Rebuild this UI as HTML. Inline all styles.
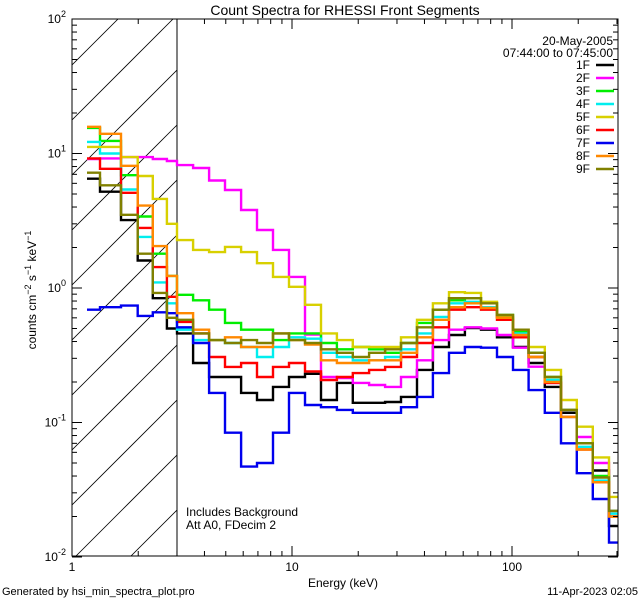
<!DOCTYPE html>
<html><head><meta charset="utf-8">
<style>
html,body{margin:0;padding:0;background:#fff;width:640px;height:600px;overflow:hidden;}
svg{display:block;font-family:"Liberation Sans",sans-serif;overflow:hidden;}
</style></head>
<body>
<svg id="chart" width="640" height="600" viewBox="0 0 640 600" xmlns="http://www.w3.org/2000/svg">
<rect width="640" height="600" fill="#fff"/>
<defs><clipPath id="hclip"><rect x="72" y="19" width="105" height="537"/></clipPath>
<clipPath id="pclip"><rect x="72" y="19" width="546" height="537"/></clipPath></defs>
<g id="hatch" clip-path="url(#hclip)"></g>
<line x1="177" y1="19" x2="177" y2="556" stroke="#000" stroke-width="1"/>
<g id="series" clip-path="url(#pclip)"></g>
<rect x="72" y="19" width="546" height="537" fill="none" stroke="#000" stroke-width="1"/>
<g id="ticks"></g>
<text x="345" y="15" font-size="14" text-anchor="middle">Count Spectra for RHESSI Front Segments</text>
<text x="613" y="45" font-size="12" text-anchor="end">20-May-2005</text>
<text x="613" y="57" font-size="12" text-anchor="end">07:44:00 to 07:45:00</text>
<g id="legend"></g>
<text transform="translate(36,290) rotate(-90)" font-size="12" text-anchor="middle">counts cm<tspan dy="-5" font-size="9">−2</tspan><tspan dy="5"> s</tspan><tspan dy="-5" font-size="9">−1</tspan><tspan dy="5"> keV</tspan><tspan dy="-5" font-size="9">−1</tspan></text>
<text x="343" y="587" font-size="12" text-anchor="middle">Energy (keV)</text>
<text x="186" y="516" font-size="12">Includes Background</text>
<text x="186" y="529" font-size="12">Att A0, FDecim 2</text>
<text x="2" y="595" font-size="11">Generated by hsi_min_spectra_plot.pro</text>
<text x="638" y="595" font-size="11" text-anchor="end">11-Apr-2023 02:05</text>
</svg>
<script>
const edges = [1.17,1.34,1.67,1.99,2.33,2.70,3.0,3.55,4.20,4.96,5.87,6.93,8.20,9.69,11.46,13.55,16.0,18.9,22.4,26.5,31.3,37.0,43.7,51.7,61.1,72.3,85.5,101,119,141,167,197,233,276,302];
const seriesNames = ['1F','2F','3F','4F','5F','6F','7F','8F','9F'];
const seriesColors = ['#000000','#ff00ff','#00ee00','#00eeee','#d8d000','#ff0000','#0000ee','#ff8800','#808000'];
const s1F = [6.5,5.2,3.2,1.6,0.84,0.5, 0.46,0.277,0.218,0.218,0.166,0.147,0.184,0.218,0.23, 0.147,0.197,0.14,0.14,0.142,0.155,0.246,0.364,0.447,0.504,0.49,0.43,0.364,0.277,0.184,0.118,0.07,0.044,0.017];
const s2F = [9.1,9.2,9.4,9.4,9.1,8.8, 8.2,7.8,6.3,5.35,3.8,2.7,1.92,1.21,0.45, 0.218,0.214,0.197,0.19,0.184,0.218,0.29,0.41,0.49,0.51,0.5,0.447,0.36,0.26,0.197,0.124,0.078,0.05,0.022];
const s3F = [15.5,12.4,6.9,3.4,1.8,1.23, 0.89,0.81,0.69,0.55,0.49,0.49,0.41,0.46,0.46, 0.39,0.35,0.364,0.35,0.33,0.39,0.55,0.69,0.81,0.84,0.77,0.63,0.47,0.33,0.218,0.124,0.07,0.04,0.022];
const s4F = [12.2,10,5.4,2.4,1.1,0.77, 0.49,0.41,0.41,0.39,0.364,0.307,0.364,0.43,0.42, 0.33,0.307,0.29,0.29,0.307,0.35,0.46,0.61,0.77,0.79,0.72,0.61,0.46,0.307,0.207,0.11,0.066,0.037,0.021];
const s5F = [11.2,11.2,9.4,6.8,4.6,3.0, 2.27,1.92,1.85,2.02,1.85,1.53,1.21,1.02,0.75, 0.46,0.41,0.364,0.364,0.364,0.43,0.58,0.77,0.93,0.92,0.79,0.61,0.49,0.364,0.246,0.147,0.093,0.055,0.028];
const s6F = [9.2,7.7,5.1,2.8,1.43,0.86, 0.56,0.46,0.307,0.259,0.277,0.218,0.259,0.277,0.24, 0.207,0.218,0.233,0.246,0.259,0.307,0.39,0.51,0.69,0.72,0.69,0.58,0.43,0.307,0.197,0.11,0.063,0.036,0.02];
const s7F = [0.69,0.72,0.74,0.62,0.66,0.65, 0.51,0.39,0.166,0.084,0.047,0.05,0.084,0.166,0.135, 0.13,0.124,0.118,0.118,0.118,0.13,0.155,0.233,0.33,0.364,0.36,0.307,0.246,0.174,0.118,0.07,0.042,0.027,0.0128];
const s8F = [15.8,14,8.1,4.1,2.05,1.23, 0.65,0.49,0.41,0.43,0.364,0.364,0.46,0.41,0.38, 0.29,0.277,0.277,0.29,0.29,0.33,0.43,0.58,0.72,0.77,0.71,0.6,0.447,0.307,0.2,0.11,0.063,0.036,0.02];
const s9F = [7.2,5.8,3.5,1.8,0.92,0.6, 0.58,0.46,0.41,0.39,0.41,0.39,0.46,0.41,0.39, 0.35,0.33,0.307,0.33,0.35,0.39,0.51,0.69,0.84,0.84,0.77,0.63,0.49,0.33,0.218,0.124,0.07,0.039,0.022];
const yTickExps = [-2,-1,0,1,2];
const xTickVals = [1,10,100];
const xTickLabels = ['1','10','100'];

const NS='http://www.w3.org/2000/svg';
const X0=72,X1=618,Y0=19,Y1=556;
const xDec=220, yDec=134.5;
function xs(e){return X0+xDec*Math.log10(e);}
function ys(v){return 288-yDec*Math.log10(v);}
function mk(tag,attrs,parent){const el=document.createElementNS(NS,tag);for(const k in attrs)el.setAttribute(k,attrs[k]);parent.appendChild(el);return el;}

const hatch=document.getElementById('hatch');
for(let b=-40;b<700;b+=55){
  const l=mk('line',{x1:72,y1:b+105,x2:177,y2:b,stroke:'#000','stroke-width':0.8},hatch);
  
  
}

const all=[s1F,s2F,s3F,s4F,s5F,s6F,s7F,s8F,s9F];
const sg=document.getElementById('series');
all.forEach((vals,i)=>{
  let d='';
  vals.forEach((v,j)=>{
    const xa=xs(edges[j]).toFixed(1), xb=Math.min(X1,xs(edges[j+1])).toFixed(1), y=ys(v).toFixed(1);
    d+=(j===0?'M':'L')+xa+','+y+'L'+xb+','+y;
  });
  const p=mk('path',{d:d,fill:'none',stroke:seriesColors[i],'stroke-width':2.4,'stroke-linejoin':'miter'},sg);
  
  
});

const tg=document.getElementById('ticks');
for(let e=-2;e<2;e++){
  for(let m=1;m<10;m++){
    const v=m*Math.pow(10,e); const y=ys(v);
    const len=(m===1)?10:5;
    mk('line',{x1:X0,y1:y,x2:X0+len,y2:y,stroke:'#000'},tg);
    mk('line',{x1:X1,y1:y,x2:X1-len,y2:y,stroke:'#000'},tg);
  }
}
yTickExps.forEach(e=>{
  const t=mk('text',{x:66,y:ys(Math.pow(10,e))+4,'font-size':12,'text-anchor':'end'},tg);
  
  
  t.innerHTML='10<tspan dy="-6" font-size="9">'+e+'</tspan>';
});
for(let e=0;e<3;e++){
  for(let m=1;m<10;m++){
    const v=m*Math.pow(10,e); const x=xs(v); if(x>X1)break;
    const len=(m===1)?10:5;
    mk('line',{x1:x,y1:Y1,x2:x,y2:Y1-len,stroke:'#000'},tg);
    mk('line',{x1:x,y1:Y0,x2:x,y2:Y0+len,stroke:'#000'},tg);
  }
}
xTickVals.forEach((v,i)=>{
  const t=mk('text',{x:xs(v),y:571,'font-size':12,'text-anchor':'middle'},tg);
  
  
  t.textContent=xTickLabels[i];
});

const lg=document.getElementById('legend');
seriesNames.forEach((n,i)=>{
  const y=65+i*13;
  const t=mk('text',{x:590,y:y+4,'font-size':12,'text-anchor':'end'},lg);
  
  
  t.textContent=n;
  const l=mk('line',{x1:596,y1:y,x2:614,y2:y,stroke:seriesColors[i],'stroke-width':2.6},lg);
  
  
});
</script>
</body></html>
